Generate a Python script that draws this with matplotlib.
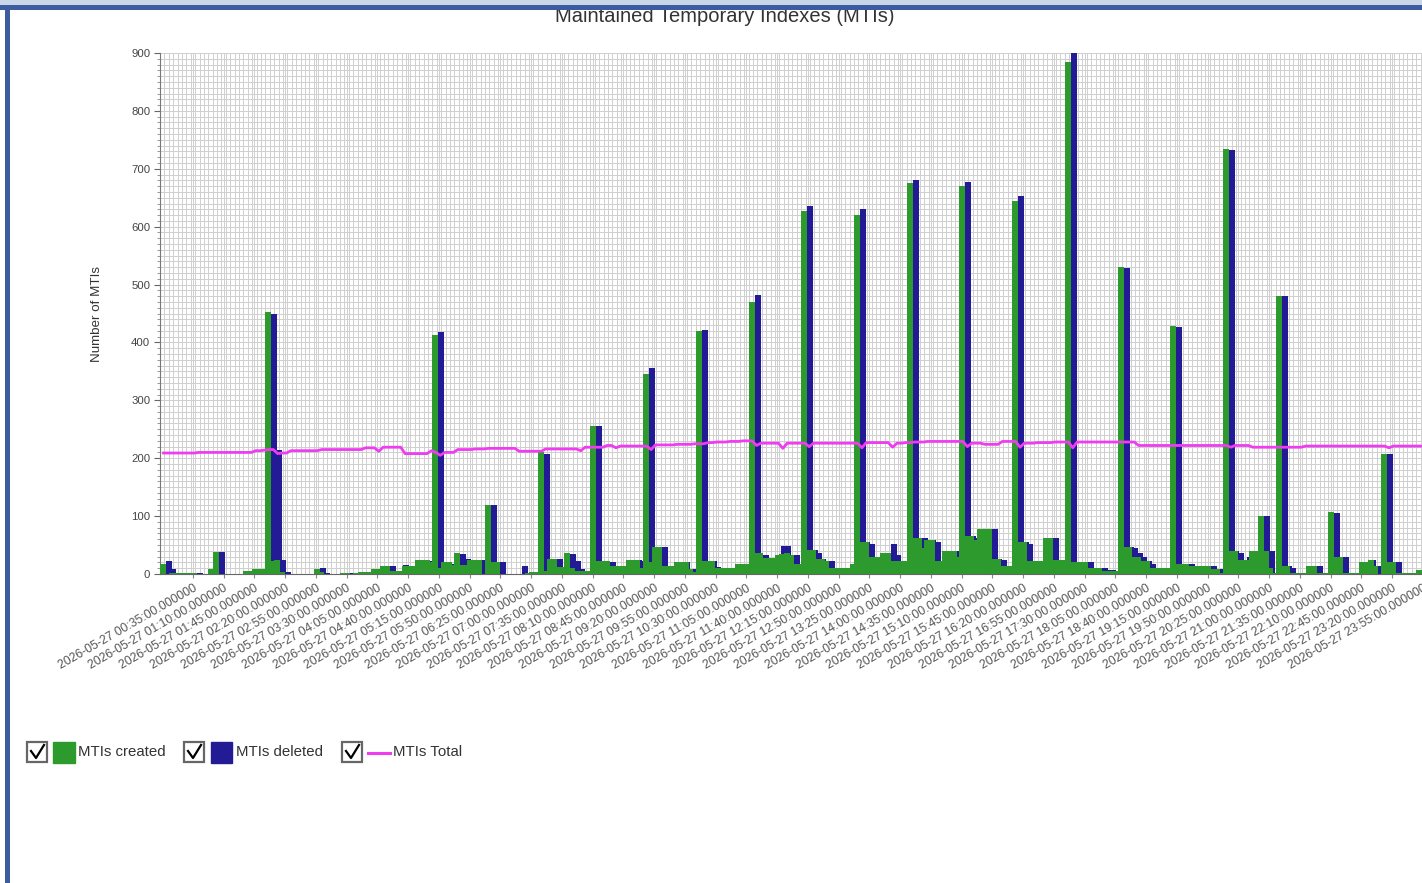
import numpy as np
import matplotlib
matplotlib.use("Agg")
import matplotlib.pyplot as plt
from matplotlib.patches import Rectangle

plt.rcParams['font.family'] = ['Liberation Sans', 'DejaVu Sans']

# 5 minute buckets over one day, 2026-05-27 00:00 .. 23:55
times = ["2026-05-27 %02d:%02d:00.000000" % (m // 60, m % 60) for m in range(0, 1440, 5)]

# MTIs created per bucket (one row per hour)
created = [
    18, 0, 1, 1, 1, 2, 2, 2, 0, 0, 0, 9,
    38, 0, 0, 0, 0, 0, 0, 5, 5, 8, 9, 9,
    452, 22, 24, 4, 0, 0, 0, 0, 0, 0, 0, 9,
    3, 0, 0, 0, 0, 2, 2, 0, 2, 3, 3, 4,
    9, 9, 13, 13, 5, 5, 5, 13, 13, 13, 25, 25,
    25, 20, 413, 10, 20, 20, 15, 37, 15, 15, 25, 25,
    25, 0, 120, 20, 20, 0, 0, 0, 0, 0, 0, 2,
    3, 3, 210, 5, 26, 26, 12, 12, 36, 10, 6, 6,
    6, 6, 255, 23, 23, 23, 14, 14, 14, 14, 24, 24,
    24, 10, 345, 20, 47, 47, 13, 13, 13, 20, 20, 20,
    9, 4, 420, 23, 23, 23, 10, 10, 10, 10, 10, 17,
    17, 17, 470, 37, 37, 28, 28, 28, 33, 35, 36, 32,
    18, 18, 627, 42, 42, 26, 26, 23, 10, 10, 10, 10,
    10, 17, 620, 55, 55, 29, 29, 29, 37, 37, 23, 23,
    23, 23, 675, 63, 63, 45, 58, 58, 22, 22, 40, 40,
    40, 30, 670, 65, 65, 58, 77, 77, 77, 26, 26, 13,
    13, 13, 645, 55, 55, 22, 22, 22, 22, 63, 63, 25,
    25, 25, 885, 20, 20, 20, 20, 10, 10, 10, 6, 6,
    6, 5, 530, 46, 46, 30, 30, 23, 23, 10, 10, 10,
    10, 10, 428, 17, 17, 17, 13, 13, 13, 13, 13, 9,
    9, 2, 735, 40, 40, 24, 24, 24, 40, 40, 101, 40,
    10, 2, 480, 13, 13, 2, 2, 2, 2, 14, 14, 2,
    2, 2, 107, 29, 29, 2, 2, 2, 2, 20, 20, 25,
    14, 0, 208, 20, 20, 1, 1, 1, 1, 1, 7, 7,
]

# MTIs deleted per bucket
deleted = [
    23, 9, 1, 1, 1, 2, 2, 2, 0, 0, 0, 5,
    38, 0, 0, 0, 0, 0, 0, 4, 5, 7, 8, 8,
    450, 215, 24, 3, 0, 0, 0, 0, 0, 0, 0, 10,
    2, 0, 0, 0, 0, 2, 1, 0, 2, 4, 4, 3,
    9, 9, 13, 13, 5, 5, 15, 13, 13, 13, 25, 23,
    23, 20, 418, 10, 18, 18, 15, 35, 26, 25, 25, 25,
    25, 0, 120, 20, 20, 0, 0, 0, 0, 13, 0, 2,
    3, 3, 207, 5, 26, 26, 12, 12, 35, 23, 9, 4,
    4, 5, 255, 23, 20, 20, 14, 14, 14, 14, 24, 24,
    22, 10, 355, 20, 46, 46, 13, 13, 13, 20, 20, 9,
    9, 4, 422, 23, 23, 12, 10, 10, 10, 10, 10, 17,
    17, 17, 482, 32, 32, 28, 28, 28, 48, 48, 32, 32,
    18, 18, 635, 42, 36, 26, 23, 23, 10, 10, 10, 10,
    10, 17, 630, 55, 51, 29, 29, 29, 37, 51, 32, 23,
    23, 23, 680, 63, 62, 45, 58, 55, 22, 12, 40, 40,
    40, 30, 678, 65, 63, 58, 77, 77, 77, 26, 24, 13,
    13, 20, 653, 55, 52, 22, 22, 22, 22, 63, 62, 25,
    23, 23, 900, 20, 20, 20, 20, 10, 10, 10, 7, 7,
    6, 5, 528, 46, 45, 36, 30, 23, 18, 10, 10, 10,
    10, 10, 426, 17, 16, 17, 13, 13, 13, 13, 13, 9,
    9, 2, 733, 40, 37, 24, 29, 24, 40, 40, 100, 40,
    2, 2, 480, 13, 10, 2, 2, 2, 2, 14, 14, 2,
    2, 2, 105, 29, 29, 2, 2, 2, 2, 20, 25, 14,
    14, 0, 208, 20, 20, 1, 1, 1, 1, 1, 7, 7,
]

# MTIs total (line)
total = [
    209, 209, 209, 209, 209, 209, 209, 209, 210, 210, 210, 210,
    210, 210, 210, 210, 210, 210, 210, 210, 210, 213, 213, 214,
    215, 215, 208, 209, 209, 213, 213, 213, 213, 213, 213, 213,
    215, 215, 215, 215, 215, 215, 215, 215, 215, 215, 218, 218,
    218, 212, 219, 219, 219, 219, 219, 208, 208, 208, 208, 208,
    208, 213, 210, 205, 210, 210, 210, 215, 215, 215, 215, 216,
    216, 216, 217, 217, 217, 217, 217, 217, 217, 212, 212, 212,
    212, 212, 212, 216, 216, 216, 216, 216, 216, 216, 216, 213,
    219, 219, 219, 219, 219, 222, 222, 218, 221, 221, 221, 221,
    221, 221, 221, 215, 223, 223, 223, 223, 223, 224, 224, 224,
    224, 225, 225, 225, 227, 227, 228, 228, 228, 229, 229, 229,
    230, 230, 230, 222, 226, 226, 226, 226, 226, 217, 226, 226,
    226, 226, 226, 220, 226, 226, 226, 226, 226, 226, 226, 226,
    226, 226, 226, 218, 227, 227, 227, 227, 227, 227, 219, 226,
    226, 227, 227, 228, 228, 228, 229, 229, 229, 229, 229, 229,
    229, 229, 229, 220, 226, 226, 226, 224, 224, 224, 224, 229,
    229, 229, 229, 219, 226, 226, 226, 227, 227, 227, 227, 228,
    228, 228, 228, 218, 228, 228, 228, 228, 228, 228, 228, 228,
    228, 228, 228, 228, 228, 228, 222, 222, 222, 222, 222, 222,
    222, 222, 222, 222, 222, 222, 222, 222, 222, 222, 222, 222,
    222, 222, 222, 219, 222, 222, 222, 222, 219, 219, 219, 219,
    219, 219, 219, 219, 219, 219, 219, 219, 221, 221, 221, 221,
    221, 221, 221, 221, 221, 221, 221, 221, 221, 221, 221, 221,
    221, 221, 221, 218, 221, 221, 221, 221, 221, 221, 221, 221,
]

GREEN = '#2c9a2c'
BLUE = '#231a96'
PINK = '#f03cf0'
W = 1.37  # bar width in category slots (bars overlap the next slot)

fig = plt.figure(figsize=(14.22, 8.83), dpi=100)
ax = fig.add_axes([160 / 1422, (883 - 574) / 883, 1265 / 1422, 521 / 883])

n = len(times)
idx = np.arange(n)
gb = ax.bar(idx, created, width=W, align='edge', color=GREEN, linewidth=0)
bb = ax.bar(idx + W, deleted, width=W, align='edge', color=BLUE, linewidth=0)
# each bucket drawn over the previous one
for i in range(n):
    gb.patches[i].set_zorder(3 + i * 0.001)
    bb.patches[i].set_zorder(3 + i * 0.001 + 0.0005)
ax.plot(idx + 0.8, total, color=PINK, lw=2.0, zorder=5, solid_joinstyle='round')

ax.set_xlim(0, n)
ax.set_ylim(0, 900)

# ticks / grid
lab_idx = idx[7::7]
ax.set_xticks(lab_idx + 0.5)
ax.set_xticklabels([times[i] for i in lab_idx], rotation=30, ha='right',
                   rotation_mode='anchor', fontsize=8.7, color='#555555')
ax.set_xticks(np.arange(0, n + 1), minor=True)
ax.set_yticks(np.arange(0, 901, 100))
ax.set_yticks(np.arange(0, 901, 10), minor=True)
ax.tick_params(axis='y', which='major', labelsize=8.2, labelcolor='#444444',
               length=4, color='#666666', pad=3)
ax.tick_params(axis='y', which='minor', length=2, color='#888888')
ax.tick_params(axis='x', which='major', length=3, color='#888888', pad=3)
ax.tick_params(axis='x', which='minor', length=0)
ax.grid(True, which='both', color='#cfcfcf', lw=0.7)
ax.set_axisbelow(True)
for s in ['top', 'right']:
    ax.spines[s].set_visible(False)
ax.spines['left'].set_color('#777777')
ax.spines['bottom'].set_color('#666666')
ax.set_ylabel('Number of MTIs', fontsize=9.6, color='#333333', labelpad=20)

# overlay in pixel units for title, legend and frame
ov = fig.add_axes([0, 0, 1, 1], zorder=10)
ov.set_xlim(0, 1422)
ov.set_ylim(883, 0)
ov.axis('off')
ov.patch.set_alpha(0)

ov.text(725, 17, 'Maintained Temporary Indexes (MTIs)', ha='center', va='center',
        fontsize=14.5, color='#333333')

def checkbox(x, y):
    ov.add_patch(Rectangle((x, y - 10), 20, 20, fill=False, ec='#666666', lw=1.6))
    ov.plot([x + 4, x + 9, x + 17], [y - 1, y + 6, y - 7], color='black', lw=1.6)

leg_y = 752
checkbox(27, leg_y)
ov.add_patch(Rectangle((53, leg_y - 10), 22, 21, color=GREEN))
ov.text(78, leg_y, 'MTIs created', va='center', fontsize=10.8, color='#333333')
checkbox(184, leg_y)
ov.add_patch(Rectangle((211, leg_y - 10), 21, 21, color=BLUE))
ov.text(236, leg_y, 'MTIs deleted', va='center', fontsize=10.8, color='#333333')
checkbox(342, leg_y)
ov.plot([368, 390], [leg_y + 1, leg_y + 1], color=PINK, lw=2.2)
ov.text(393, leg_y, 'MTIs Total', va='center', fontsize=10.8, color='#333333')

# blue frame around the panel (drawn over the title)
ov.add_patch(Rectangle((0, 0), 1422, 5, color='#c9d6ea', lw=0, zorder=20))
ov.add_patch(Rectangle((0, 5), 1422, 5, color='#3b5c9e', lw=0, zorder=20))
ov.add_patch(Rectangle((5, 5), 5, 878, color='#3b5c9e', lw=0, zorder=20))

fig.savefig('out.png', dpi=100)
